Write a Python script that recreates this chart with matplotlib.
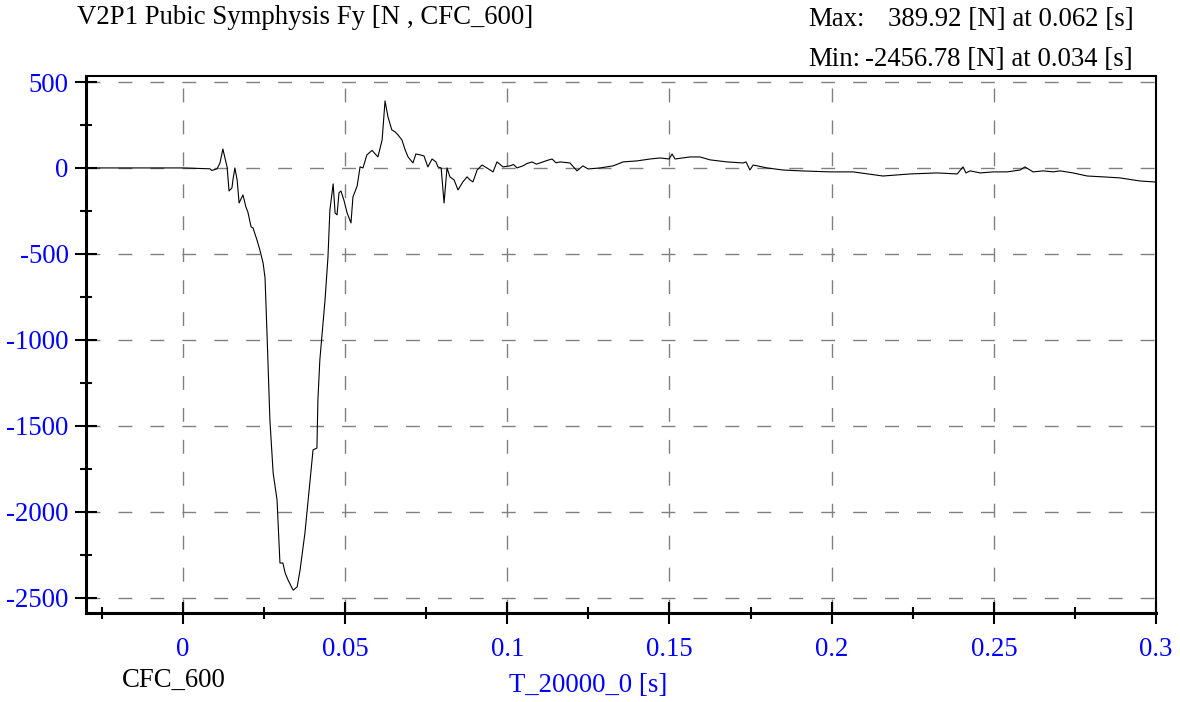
import matplotlib
matplotlib.use("Agg")
import matplotlib.pyplot as plt

plt.rcParams['font.family'] = ['Liberation Serif', 'DejaVu Serif']

# ---- data ----
time_s = [-0.0293, -0.0102, 0.0, 0.0052, 0.0083, 0.0089, 0.0105, 0.0114, 0.0123, 0.0136,
          0.0142, 0.0151, 0.0154, 0.0160, 0.0167, 0.0173, 0.0185, 0.0194, 0.0200, 0.0210,
          0.0216, 0.0228, 0.0237, 0.0247, 0.0253, 0.0259, 0.0268, 0.0278, 0.0290, 0.0299,
          0.0308, 0.0315, 0.0324, 0.0336, 0.0340, 0.0352, 0.0361, 0.0376, 0.0392, 0.0401,
          0.0413, 0.0416, 0.0422, 0.0438, 0.0447, 0.0453, 0.0463, 0.0469, 0.0475, 0.0481,
          0.0487, 0.0496, 0.0506, 0.0518, 0.0524, 0.0537, 0.0546, 0.0555, 0.0567, 0.0583,
          0.0601, 0.0614, 0.0623, 0.0632, 0.0644, 0.0654, 0.0663, 0.0675, 0.0685, 0.0694,
          0.0709, 0.0718, 0.0731, 0.0743, 0.0755, 0.0768, 0.0780, 0.0786, 0.0796, 0.0805,
          0.0814, 0.0823, 0.0836, 0.0848, 0.0863, 0.0876, 0.0885, 0.0894, 0.0907, 0.0922,
          0.0937, 0.0956, 0.0968, 0.0987, 0.1008, 0.1019, 0.1030, 0.1048, 0.1060, 0.1076,
          0.1090, 0.1110, 0.1125, 0.1138, 0.1150, 0.1163, 0.1193, 0.1215, 0.1233, 0.1249,
          0.1286, 0.1326, 0.1357, 0.1400, 0.1440, 0.1471, 0.1499, 0.1508, 0.1517, 0.1563,
          0.1594, 0.1625, 0.1677, 0.1727, 0.1736, 0.1748, 0.1758, 0.1801, 0.1850, 0.1903,
          0.1995, 0.2066, 0.2158, 0.2242, 0.2325, 0.2387, 0.2405, 0.2414, 0.2427, 0.2458,
          0.2498, 0.2541, 0.2581, 0.2596, 0.2621, 0.2652, 0.2683, 0.2704, 0.2744, 0.2788,
          0.2837, 0.2889, 0.2951, 0.2991, 0.3000]
force_N = [0, 0, 0, -3, -5, -15, -5, 28, 110, 5,
           -134, -116, -70, 0, -70, -204, -157, -227, -256, -343,
           -349, -419, -477, -553, -640, -960, -1467, -1775, -1932, -2299,
           -2299, -2357, -2398, -2444, -2457, -2438, -2340, -2125, -1816, -1641,
           -1630, -1350, -1117, -768, -520, -244, -93, -262, -273, -145,
           -134, -186, -262, -320, -169, -105, 6, 0, 76, 102,
           64, 163, 390, 297, 221, 210, 192, 163, 105, 64,
           29, 81, 76, 70, 6, 52, 35, 6, 0, -204,
           0, -52, -70, -128, -81, -52, -70, -81, -12, 17,
           0, -23, 35, 6, 12, 20, 0, 12, 25, 35,
           22, 35, 45, 52, 30, 35, 29, -17, 12, -6,
           0, 12, 35, 41, 52, 58, 52, 81, 52, 64,
           64, 47, 35, 29, 35, -12, 17, 0, -12, -17,
           -23, -23, -47, -35, -29, -35, 6, -29, -17, -29,
           -23, -23, -12, 6, -23, -17, -23, -17, -29, -47,
           -52, -58, -76, -81, -82]

x_ticks = [0, 0.05, 0.1, 0.15, 0.2, 0.25, 0.3]
x_tick_labels = ['0', '0.05', '0.1', '0.15', '0.2', '0.25', '0.3']
x_minor = [-0.025, 0.025, 0.075, 0.125, 0.175, 0.225, 0.275]
y_ticks = [-2500, -2000, -1500, -1000, -500, 0, 500]
y_tick_labels = ['-2500', '-2000', '-1500', '-1000', '-500', '0', '500']
y_minor = [-2250, -1750, -1250, -750, -250, 250]

title_text = 'V2P1 Pubic Symphysis Fy [N , CFC_600]'
max_value_text = '389.92 [N] at 0.062 [s]'
min_value_text = '-2456.78 [N] at 0.034 [s]'
filter_text = 'CFC_600'
xlabel_text = 'T_20000_0 [s]'

W, H = 1180, 702
fig = plt.figure(figsize=(W / 100, H / 100), dpi=100)
L, R, T, B = 86, 1156, 76, 613
ax = fig.add_axes([L / W, 1 - B / H, (R - L) / W, (B - T) / H])

ax.plot(time_s, force_N, color='black', linewidth=0.8)

ax.set_xlim(-0.0299, 0.3)
ax.set_ylim(-2590, 535)

ax.set_xticks(x_ticks)
ax.set_xticklabels(x_tick_labels)
ax.set_xticks(x_minor, minor=True)
ax.set_yticks(y_ticks)
ax.set_yticklabels(y_tick_labels)
ax.set_yticks(y_minor, minor=True)

FS = 19.3
ax.tick_params(which='major', direction='inout', length=16, width=1.5,
               color='black', labelcolor='#0000FF', labelsize=FS)
ax.tick_params(axis='y', which='major', pad=4.5)
ax.tick_params(axis='x', which='major', pad=9)
ax.tick_params(which='minor', direction='inout', length=9, width=1.5, color='black')

ax.grid(True, which='major', color='#808080', linestyle=(0, (10, 13)), linewidth=1.0)

for side in ['left', 'bottom']:
    ax.spines[side].set_linewidth(2.2)
for side in ['top', 'right']:
    ax.spines[side].set_linewidth(1.5)

def ft(x, y, s, **kw):
    fig.text(x / W, 1 - y / H, s, fontsize=FS, **kw)

ft(77, 17, title_text, ha='left', va='center')
ft(808, 20, 'Max:', ha='left', va='center')
ft(888, 20, max_value_text, ha='left', va='center')
ft(808, 60, 'Min:', ha='left', va='center')
ft(1133, 60, min_value_text, ha='right', va='center')
ft(174, 680, filter_text, ha='center', va='center')
ft(588, 685, xlabel_text, ha='center', va='center', color='#0000FF')

fig.savefig('out.png', dpi=100)
